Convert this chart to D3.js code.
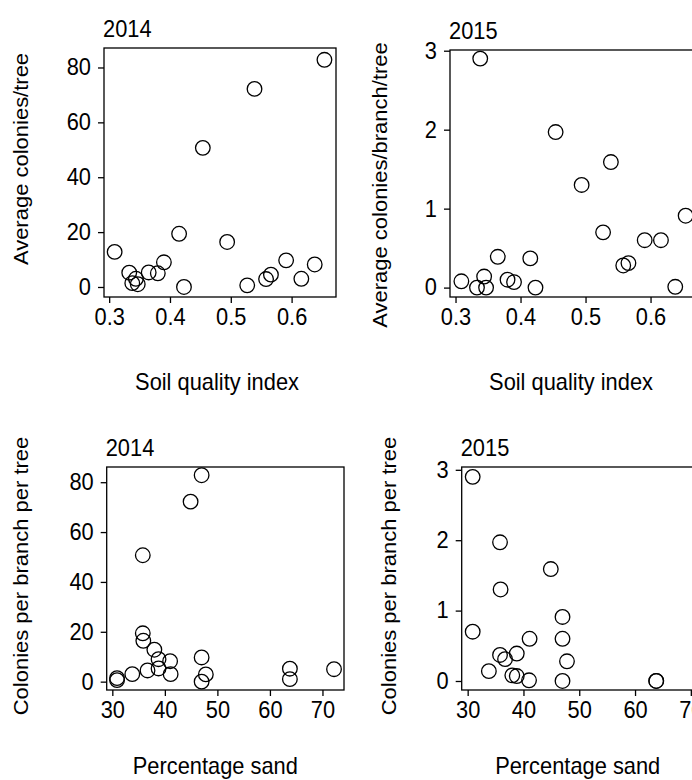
<!DOCTYPE html>
<html><head><meta charset="utf-8">
<script src="https://cdn.jsdelivr.net/npm/d3@7"></script>
<style>body{margin:0;background:#fff;overflow:hidden}svg{display:block}</style>
</head><body><svg id="c" width="692" height="780"></svg>
<script>
// site-level data (20 sites)
const soilQuality = [0.309,0.333,0.344,0.338,0.347,0.365,0.380,0.390,0.415,0.423,0.454,0.494,0.527,0.539,0.558,0.566,0.591,0.616,0.638,0.654];
const sandPct     = [38.0,63.8,33.8,30.9,63.8,38.8,72.2,38.8,35.8,47.0,35.8,35.9,30.9,44.9,47.8,36.7,47.0,41.1,41.0,47.0];
const colonies2014 = [12.8,5.2,3.0,1.4,1.0,5.3,5.0,9.0,19.4,0.0,50.7,16.4,0.6,72.2,2.9,4.5,9.7,3.0,8.2,82.8];
const colonies2015 = [0.08,0.0,0.14,2.90,0.0,0.39,0.10,0.07,0.37,0.0,1.97,1.30,0.70,1.59,0.28,0.31,0.60,0.60,0.01,0.91];
const ticks2014 = [0,20,40,60,80];
const ticks2015 = [0,1,2,3];
const ticksSoil = [0.3,0.4,0.5,0.6];
const ticksSand = [30,40,50,60,70];
const years = ["2014","2015"];
const xTitles = ["Soil quality index","Percentage sand"];
const yTitles = ["Average colonies/tree","Average colonies/branch/tree","Colonies per branch per tree","Colonies per branch per tree"];

const FONT = "'Liberation Sans', Arial, sans-serif";
const SX = 0.95;
const TICKF = 23, TITLEF = 23, YEARF = 23, YLABF = 22;
const svg = d3.select("#c");

const panels = [
  {x:soilQuality, y:colonies2014, xd:[0.2915,0.673], yd:[-3.65,87.1], xr:[104,336], yr:[297,48], xt:ticksSoil, yt:ticks2014, fx:d3.format(".1f"), title:years[0], xlab:xTitles[0], ylab:yTitles[0], ylx:28, yly:159, xlo:93, xlx:-3},
  {x:soilQuality, y:colonies2015, xd:[0.2915,0.673], yd:[-0.119,3.009], xr:[450,698], yr:[297,50], xt:ticksSoil, yt:ticks2015, fx:d3.format(".1f"), title:years[1], xlab:xTitles[0], ylab:yTitles[1], ylx:387, yly:185, xlo:93, xlx:-3},
  {x:sandPct, y:colonies2014, xd:[28.93,74.1], yd:[-3.35,86.1], xr:[106.7,344], yr:[690,467], xt:ticksSand, yt:ticks2014, fx:d3.format("d"), title:years[0], xlab:xTitles[1], ylab:yTitles[2], ylx:28, yly:576, xlo:84, xlx:-10},
  {x:sandPct, y:colonies2015, xd:[28.93,74.1], yd:[-0.128,3.04], xr:[461.7,713.7], yr:[690,467], xt:ticksSand, yt:ticks2015, fx:d3.format("d"), title:years[1], xlab:xTitles[1], ylab:yTitles[3], ylx:396, yly:576, xlo:84, xlx:-10}
];

function label(x, y, s, size, anchor, rot){
  svg.append("text")
    .attr("transform", rot ? `translate(${x},${y}) rotate(-90) scale(1,${SX})` : `translate(${x},${y}) scale(${SX},1)`)
    .attr("text-anchor", anchor).attr("font-family", FONT).attr("font-size", size).attr("fill","#000").text(s);
}

panels.forEach(p => {
  const xs = d3.scaleLinear().domain(p.xd).range(p.xr);
  const ys = d3.scaleLinear().domain(p.yd).range(p.yr);
  const g = svg.append("g");
  g.append("rect").attr("x", p.xr[0]).attr("y", p.yr[1]).attr("width", p.xr[1]-p.xr[0]).attr("height", p.yr[0]-p.yr[1])
    .attr("fill","none").attr("stroke","#000").attr("stroke-width",1.3);
  const ax = g.append("g").attr("transform",`translate(0,${p.yr[0]})`)
    .call(d3.axisBottom(xs).tickValues(p.xt).tickFormat(p.fx).tickSize(6).tickPadding(6));
  const ay = g.append("g").attr("transform",`translate(${p.xr[0]},0)`)
    .call(d3.axisLeft(ys).tickValues(p.yt).tickFormat(d3.format("d")).tickSize(6).tickPadding(7));
  [ax, ay].forEach(a => {
    a.select(".domain").remove();
    a.selectAll("line").attr("stroke","#000").attr("stroke-width",1.3);
    a.selectAll("text").attr("font-family",FONT).attr("font-size",TICKF).attr("fill","#000");
  });
  ay.selectAll("text").each(function(){
    const t = d3.select(this); const x = +t.attr("x");
    t.attr("x", x/SX).attr("transform",`scale(${SX},1)`);
  });
  ax.selectAll("text").attr("transform",`scale(${SX},1)`);
  g.append("g").selectAll("circle").data(d3.range(p.x.length)).join("circle")
    .attr("cx", i => xs(p.x[i])).attr("cy", i => ys(p.y[i])).attr("r",7.3)
    .attr("fill","none").attr("stroke","#000").attr("stroke-width",1.3);
  label(p.xr[0]-1, p.yr[1]-11, p.title, YEARF, "start", false);
  label((p.xr[0]+p.xr[1])/2 + p.xlx, p.yr[0]+p.xlo, p.xlab, TITLEF, "middle", false);
  label(p.ylx, p.yly, p.ylab, YLABF, "middle", true);
});
</script></body></html>
